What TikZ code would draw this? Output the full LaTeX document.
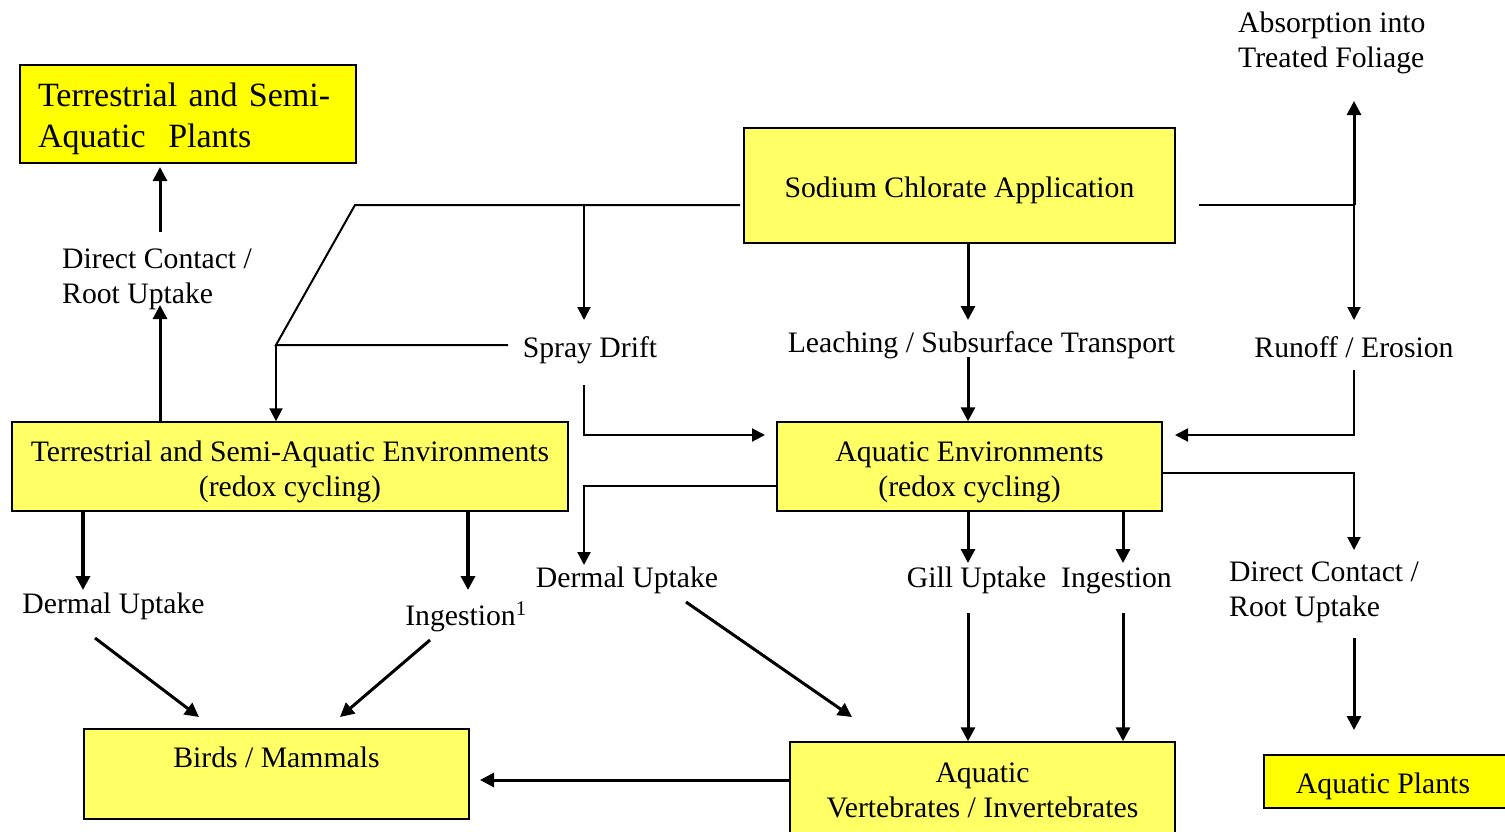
\documentclass[tikz,border=0pt]{standalone}
\usepackage{fontspec}
\setmainfont{Liberation Serif}
\usetikzlibrary{arrows.meta}
\definecolor{ly}{HTML}{FFFF66}
\definecolor{py}{HTML}{FFFF00}
\begin{document}
\begin{tikzpicture}[x=1pt,y=-1pt,
  box/.style={draw=black, line width=1.5pt, inner sep=0pt},
  lbl/.style={inner sep=0pt, font=\fontsize{29.7}{35}\selectfont},
  thinl/.style={line width=2pt},
  arr/.style={line width=3pt, -{Triangle[length=14pt,width=14pt]}},
  arrt/.style={line width=2pt, -{Triangle[length=13pt,width=13pt]}},
  arrk/.style={line width=3.5pt, -{Triangle[length=14pt,width=14pt]}},
]
\useasboundingbox (0,0) rectangle (1505,831);
\clip (0,0) rectangle (1505,831);

% boxes
\node[box, fill=py, minimum width=336pt, minimum height=98pt] (tsp) at (188,114) {};
\node[lbl, text width=300pt, align=left, font=\fontsize{34}{41}\selectfont] (tspT) at (188,119) {Terrestrial and Semi-\\Aquatic\ \ Plants};
\node[box, fill=ly, minimum width=431pt, minimum height=115pt] (sca) at (959.5,185.5) {};
\node[lbl] (scaT) at (959.5,190.5) {Sodium Chlorate Application};
\node[box, fill=ly, minimum width=556pt, minimum height=89pt] (tse) at (290,466.5) {};
\node[lbl, align=center] (tseT) at (290,472) {Terrestrial and Semi-Aquatic Environments\\(redox cycling)};
\node[box, fill=ly, minimum width=385pt, minimum height=89pt] (ae) at (969.5,466.5) {};
\node[lbl, align=center] (aeT) at (969.5,472) {Aquatic Environments\\(redox cycling)};
\node[box, fill=ly, minimum width=385pt, minimum height=90pt] (bm) at (276.5,774) {};
\node[lbl, anchor=base] (bmT) at (276.5,767) {Birds / Mammals};
\node[box, fill=ly, minimum width=385pt, minimum height=96pt] (avi) at (982.5,790) {};
\node[lbl, align=center] (aviT) at (982.5,790) {Aquatic\\Vertebrates / Invertebrates};
\node[box, fill=py, minimum width=256pt, minimum height=53pt] (ap) at (1392,781.5) {};
\node[lbl] (apT) at (1383,786.5) {Aquatic Plants};

% labels
\node[lbl, align=left, anchor=west] (abs) at (1238,43) {Absorption into\\Treated Foliage};
\node[lbl, align=left, anchor=west] (dcl) at (62,279) {Direct Contact /\\Root Uptake};
\node[lbl, anchor=base] (sd) at (590,357) {Spray Drift};
\node[lbl, anchor=base] (le) at (981.5,352) {Leaching / Subsurface Transport};
\node[lbl, anchor=base] (ro) at (1354,357) {Runoff / Erosion};
\node[lbl, anchor=base] (du1l) at (113.5,613) {Dermal Uptake};
\node[lbl, anchor=base] (in1l) at (466,625) {Ingestion\textsuperscript{1}};
\node[lbl, anchor=base] (du2l) at (627,587) {Dermal Uptake};
\node[lbl, anchor=base] (gil) at (976.5,587) {Gill Uptake};
\node[lbl, anchor=base] (in2l) at (1116.5,587) {Ingestion};
\node[lbl, align=left, anchor=west] (dcr) at (1229,592) {Direct Contact /\\Root Uptake};

% coordinates
\coordinate (sl) at (740,205);
\coordinate (j1) at (355,205);
\coordinate (j2) at (276,345);
\coordinate (sdE) at (508,345);
\coordinate (sdT) at (584,205);
\coordinate (sdA) at (584,320);
\coordinate (sdB) at (584,385);
\coordinate (sdC) at (584,435);
\coordinate (aeIn) at (765,435);
\coordinate (leT) at (968,320);
\coordinate (leB) at (968,357);
\coordinate (sr) at (1199,205);
\coordinate (rj) at (1354,205);
\coordinate (absA) at (1354,101);
\coordinate (roT) at (1354,320);
\coordinate (roB) at (1354,370);
\coordinate (roC) at (1354,435);
\coordinate (aeR) at (1175,435);
\coordinate (dcJ) at (1354,473);
\coordinate (dcT) at (1354,550);
\coordinate (dmJ) at (584,486);
\coordinate (dmT) at (584,565);
\coordinate (gT) at (968,563);
\coordinate (iT) at (1123,563);
\coordinate (gB) at (968,613);
\coordinate (iB) at (1123,613);
\coordinate (dcB) at (1354,638);
\coordinate (apA) at (1354,730);
\coordinate (rtT) at (160,305);
\coordinate (rtB) at (160,232);
\coordinate (tspA) at (160,167);
\coordinate (duT) at (83,590);
\coordinate (inT) at (468,590);
\coordinate (du1) at (95,638);
\coordinate (du2) at (199,717);
\coordinate (in1) at (430,640);
\coordinate (in2) at (340,717);
\coordinate (dm1) at (686,602);
\coordinate (dm2) at (852,717);
\coordinate (bmA) at (480,780);

% connectors
\draw[thinl] (sl) -- (j1) -- (j2) -- (sdE);
\draw[arrt] (j2) -- (j2 |- tse.north);
\draw[arrt] (sdT) -- (sdA);
\draw[arrt] (sdB) -- (sdC) -- (aeIn);
\draw[arr] (leT |- sca.south) -- (leT);
\draw[arr] (leB) -- (leB |- ae.north);
\draw[thinl] (sr) -- (rj);
\draw[arr] (rj) -- (absA);
\draw[arrt] (rj) -- (roT);
\draw[arrt] (roB) -- (roC) -- (aeR);
\draw[arrt] (ae.east |- dcJ) -- (dcJ) -- (dcT);
\draw[arrt] (ae.west |- dmJ) -- (dmJ) -- (dmT);
\draw[arr] (gT |- ae.south) -- (gT);
\draw[arr] (iT |- ae.south) -- (iT);
\draw[arr] (gB) -- (gB |- avi.north);
\draw[arr] (iB) -- (iB |- avi.north);
\draw[arr] (dcB) -- (apA);
\draw[arr] (rtT |- tse.north) -- (rtT);
\draw[arr] (rtB) -- (tspA);
\draw[arrk] (duT |- tse.south) -- (duT);
\draw[arrk] (inT |- tse.south) -- (inT);
\draw[arr] (du1) -- (du2);
\draw[arr] (in1) -- (in2);
\draw[arr] (dm1) -- (dm2);
\draw[arr] (avi.west |- bmA) -- (bmA);
\end{tikzpicture}
\end{document}
